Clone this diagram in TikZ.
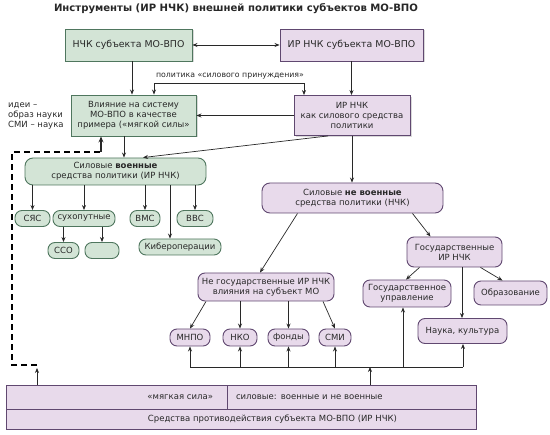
\documentclass[tikz,border=0pt]{standalone}
\usepackage{fontspec}
\setmainfont{DejaVu Sans}
\usetikzlibrary{arrows.meta,shadows}

\definecolor{instgreenfill}{RGB}{211,228,214}
\definecolor{instgreenline}{RGB}{79,118,94}
\definecolor{instpurplefill}{RGB}{232,218,235}
\definecolor{instpurpleline}{RGB}{96,72,112}
\definecolor{instink}{RGB}{40,40,40}

\begin{document}
\begin{tikzpicture}[x=1pt,y=-1pt,
  every node/.style={font=\fontsize{8.5}{10}\selectfont,inner sep=0pt,text=instink,align=center},
  instshadow/.style={drop shadow={shadow xshift=1.5pt,shadow yshift=-1.5pt,opacity=0.3}},
  instgbox/.style={draw=instgreenline,fill=instgreenfill,line width=0.9pt,instshadow},
  instpbox/.style={draw=instpurpleline,fill=instpurplefill,line width=0.9pt,instshadow},
  instgpill/.style={draw=instgreenline,fill=instgreenfill,line width=0.9pt,rounded corners=7pt},
  instppill/.style={draw=instpurpleline,fill=instpurplefill,line width=0.9pt,rounded corners=7pt},
  instbase/.style={draw=instpurpleline,fill=instpurplefill,line width=0.9pt},
  instline/.style={draw=instink,line width=0.7pt},
  instarrow/.style={instline,-{Stealth[length=5pt,width=4pt]}},
  instboth/.style={instline,{Stealth[length=5pt,width=4pt]}-{Stealth[length=5pt,width=4pt]}},
  instdash/.style={draw=black,line width=1.6pt,dash pattern=on 6pt off 4pt}]
\useasboundingbox (0,0) rectangle (550,435);

% top row
\node[font=\fontsize{10.1}{12}\selectfont\bfseries] (title) at (236,9) {Инструменты (ИР НЧК) внешней политики субъектов МО-ВПО};
\node[instgbox,font=\fontsize{9.4}{11}\selectfont,minimum width=127,minimum height=32] (nchk) at (128.5,45) {НЧК субъекта МО-ВПО};
\node[instpbox,font=\fontsize{9.4}{11}\selectfont,minimum width=143,minimum height=32] (irnchk) at (351.5,45) {ИР НЧК субъекта МО-ВПО};
\draw[instboth] (nchk.east) -- (irnchk.west);

% second row
\node[font=\fontsize{7.8}{9}\selectfont] (coerce) at (230,76) {политика «силового принуждения»};
\node[instgbox,minimum width=125,minimum height=41] (infl) at (133.5,115.5) {Влияние на систему\\МО-ВПО в качестве\\примера («мягкой силы»};
\node[instpbox,minimum width=116,minimum height=40] (irpol) at (352,115.5) {ИР НЧК\\как силового средства\\политики};
\node[anchor=west,align=left] (ideas) at (8,116) {идеи –\\образ науки\\СМИ – наука};
\draw[instarrow] ([xshift=3.5pt]nchk.south) -- ([xshift=3.5pt]nchk.south |- infl.north);
\draw[instarrow] (irnchk.south) -- (irnchk.south |- irpol.north);
\coordinate (coercel) at (154,83);
\coordinate (coercer) at (304,83);
\draw[instboth] (coercel |- infl.north) -- (coercel) -- (coercer) -- (coercer |- irpol.north);
\draw[instarrow] (irpol.west) -- (irpol.west -| infl.east);

% military means
\node[instgpill,rounded corners=8pt,minimum width=181,minimum height=27] (mil) at (115.5,171.5) {Силовые \textbf{военные}\\средства политики (ИР НЧК)};
\node[instgpill,minimum width=35,minimum height=16] (syas) at (32.5,218.5) {СЯС};
\node[instgpill,minimum width=62,minimum height=16] (land) at (84,218.5) {сухопутные};
\node[instgpill,minimum width=30,minimum height=16] (navy) at (145,218.5) {ВМС};
\node[instgpill,minimum width=36,minimum height=16] (air) at (195,218.5) {ВВС};
\node[instgpill,minimum width=31,minimum height=16] (sso) at (63.5,250.5) {ССО};
\node[instgpill,minimum width=34,minimum height=16] (blank) at (102,250.5) {};
\node[instgpill,minimum width=82,minimum height=16] (cyber) at (180,247) {Кибероперации};
\draw[instarrow] ([xshift=-9.5pt]infl.south) -- ([xshift=-9.5pt]infl.south |- mil.north);
\draw[instarrow] ([xshift=-24pt]irpol.south) -- ([xshift=27.5pt]mil.north);
\foreach \kid in {syas,land,navy,air}
  \draw[instarrow] (mil.south -| \kid.north) -- (\kid.north);
\draw[instarrow] ([xshift=-10pt]cyber.north |- mil.south) -- ([xshift=-10pt]cyber.north);
\draw[instarrow] (land.south -| sso.north) -- (sso.north);
\draw[instarrow] (land.south -| blank.north) -- (blank.north);

% dashed return
\coordinate (dashlow) at (37,365);
\coordinate (dashhigh) at (101,152);
\draw[instdash] (dashlow) -- ++(-25,0) |- (dashhigh);
\draw[instline,line width=1.4pt,-{Stealth[length=6pt,width=5pt]}] (dashhigh) -- (dashhigh |- infl.south);

% non-military means
\node[instppill,rounded corners=8pt,minimum width=181,minimum height=30] (nonmil) at (352.5,198) {Силовые \textbf{не военные}\\средства политики (НЧК)};
\node[instppill,minimum width=95,minimum height=30] (gos) at (454.5,252) {Государственные\\ИР НЧК};
\node[instppill,minimum width=136,minimum height=28] (nonst) at (266,287) {Не государственные ИР НЧК\\влияния на субъект МО};
\node[instppill,minimum width=88,minimum height=27] (gu) at (407,293.5) {Государственное\\управление};
\node[instppill,minimum width=73,minimum height=24] (edu) at (510.5,293) {Образование};
\node[instppill,minimum width=89,minimum height=25] (sci) at (462.5,331) {Наука, культура};
\node[instppill,minimum width=40,minimum height=17] (mnpo) at (190,337.5) {МНПО};
\node[instppill,minimum width=34,minimum height=17] (nko) at (240,337.5) {НКО};
\node[instppill,minimum width=41,minimum height=17] (fund) at (288.5,337.5) {фонды};
\node[instppill,minimum width=32,minimum height=17] (smi) at (335,337.5) {СМИ};
\draw[instarrow] (irpol.south) -- (irpol.south |- nonmil.north);
\draw[instarrow] ([xshift=-55pt]nonmil.south) -- ([xshift=-6pt]nonst.north);
\draw[instarrow] ([xshift=60pt]nonmil.south) -- ([xshift=-24pt]gos.north);
\draw[instarrow] ([xshift=-35pt]gos.south) -- ([xshift=-1pt]gu.north);
\draw[instarrow] ([xshift=26pt]gos.south) -- ([xshift=-8pt]edu.north);
\draw[instarrow] ([xshift=7.5pt]gos.south) -- ([xshift=7.5pt]gos.south |- sci.north);
\draw[instarrow] ([xshift=-60pt]nonst.south) -- (mnpo.north);
\draw[instarrow] (nonst.south -| nko.north) -- (nko.north);
\draw[instarrow] (nonst.south -| fund.north) -- (fund.north);
\draw[instarrow] ([xshift=57pt]nonst.south) -- (smi.north);

% counter-measures
\node[instbase,minimum width=221,minimum height=24,text width=193,align=right] (soft) at (116.5,397) {«мягкая сила»};
\node[instbase,minimum width=249,minimum height=24,text width=231,align=left] (force) at (351.5,397) {силовые: военные и не военные};
\node[instbase,minimum width=470,minimum height=20,text width=312,align=right] (counter) at (241,419) {Средства противодействия субъекта МО-ВПО (ИР НЧК)};
\coordinate (busl) at (190,367);
\coordinate (busr) at (463,367);
\coordinate (busin) at (370,367);
\coordinate (guin) at ([xshift=-4pt]gu.south);
\draw[instline] (busl) -- (busr);
\draw[instarrow] (busin |- force.north) -- (busin);
\foreach \kid in {mnpo,nko,fund,smi}
  \draw[instarrow] (busl -| \kid.south) -- (\kid.south);
\draw[instarrow] (busl -| guin) -- (guin);
\draw[instarrow] (busr) -- (busr |- sci.south);
\draw[instarrow] (soft.north -| dashlow) -- ([yshift=-3pt]dashlow);
\end{tikzpicture}
\end{document}
